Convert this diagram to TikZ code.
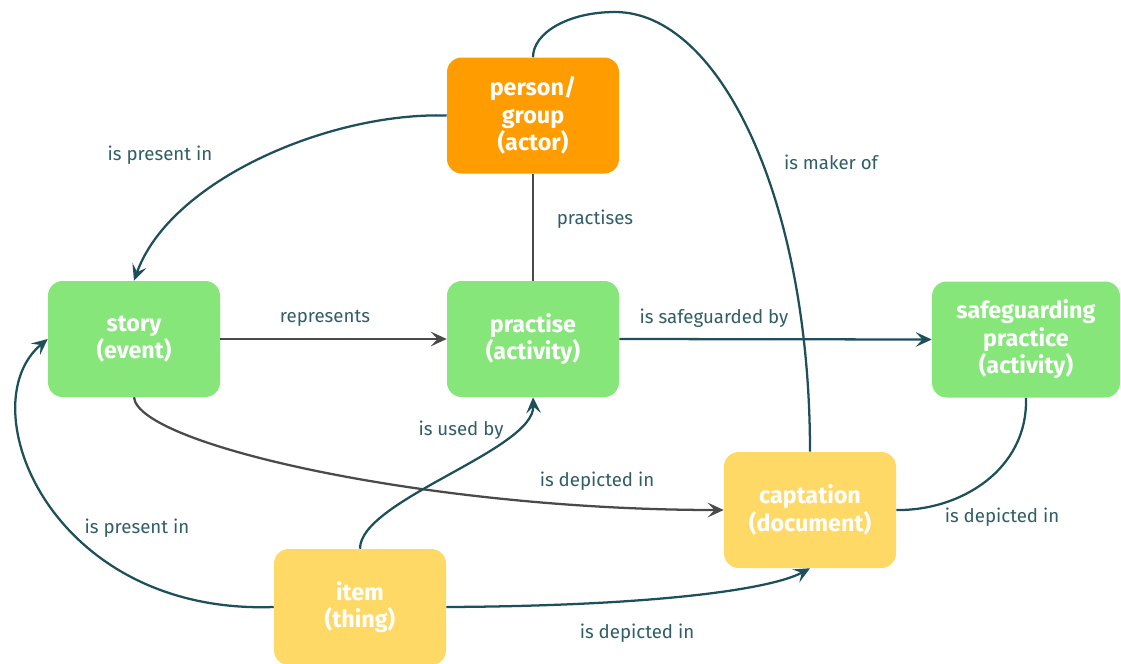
\documentclass[tikz,border=0pt]{standalone}
\usepackage{fontspec}
\setmainfont{Fira Sans}
\usetikzlibrary{arrows.meta}
\definecolor{orangeN}{HTML}{FF9C00}
\definecolor{greenN}{HTML}{86E67A}
\definecolor{yellowN}{HTML}{FFD966}
\definecolor{edgeteal}{HTML}{1E505C}
\definecolor{edgegray}{HTML}{4A4A4A}
\definecolor{lblcol}{HTML}{2F5D68}
\begin{document}
\begin{tikzpicture}[x=0.75pt,y=-0.75pt,
  box/.style={rounded corners=11pt, minimum width=129pt, minimum height=87pt, align=center,
    text=white, font=\fontsize{17.5}{20.6}\selectfont\bfseries, inner sep=0pt},
  lbl/.style={text=lblcol, font=\fontsize{14}{16}\selectfont, inner sep=1pt},
  tl/.style={draw=edgeteal, line width=1.7pt},
  gl/.style={draw=edgegray, line width=1.7pt},
  arr/.style={-{Stealth[length=12pt,width=11pt,inset=5pt]}}]
\useasboundingbox (0,0) rectangle (1121,664);
% nodes
\node[box, fill=orangeN] (person) at (533,115.5) {person/\\group\\(actor)};
\node[box, fill=greenN] (story) at (134,339) {story\\(event)};
\node[box, fill=greenN] (practise) at (533,339) {practise\\(activity)};
\node[box, fill=greenN, minimum width=141pt] (safe) at (1026,339.5) {safeguarding\\practice\\(activity)};
\node[box, fill=yellowN] (capt) at (810,510) {captation\\(document)};
\node[box, fill=yellowN] (item) at (360,607) {item\\(thing)};
\coordinate (apex) at (615,12);
% edges
\draw[tl, arr] (person.west) .. controls (330,112) and (170,180) .. (story.north);
\draw[gl, arr] (story.east) -- (practise.west);
\draw[gl] (person.south) -- (practise.north);
\draw[tl, arr] (practise.east) -- (safe.west);
\draw[tl] (capt.north) .. controls (810,200) and (720,12) .. (apex)
  .. controls (568,12) and (533,33) .. (person.north);
\draw[gl, arr] (story.south) .. controls (138,445) and (430,510) .. (capt.west);
\draw[tl, arr] (item.north) .. controls (360,500) and (535,450) .. (practise.south);
\draw[tl, arr] (item.west) .. controls (50,615) and (-32,405) .. (story.west);
\draw[tl, arr] (item.east) .. controls (650,606) and (770,590) .. (capt.south);
\draw[tl] (safe.south) .. controls (1028,470) and (960,511) .. (capt.east);
% labels
\node[lbl] (l1) at (160,155) {is present in};
\node[lbl] (l2) at (325,318) {represents};
\node[lbl] (l3) at (595,219) {practises};
\node[lbl] (l4) at (714,318) {is safeguarded by};
\node[lbl] (l5) at (831,162) {is maker of};
\node[lbl] (l6) at (461,430) {is used by};
\node[lbl] (l7) at (597,481) {is depicted in};
\node[lbl] (l8) at (137,528) {is present in};
\node[lbl] (l9) at (637,633) {is depicted in};
\node[lbl] (l10) at (1002,517) {is depicted in};
\end{tikzpicture}
\end{document}
